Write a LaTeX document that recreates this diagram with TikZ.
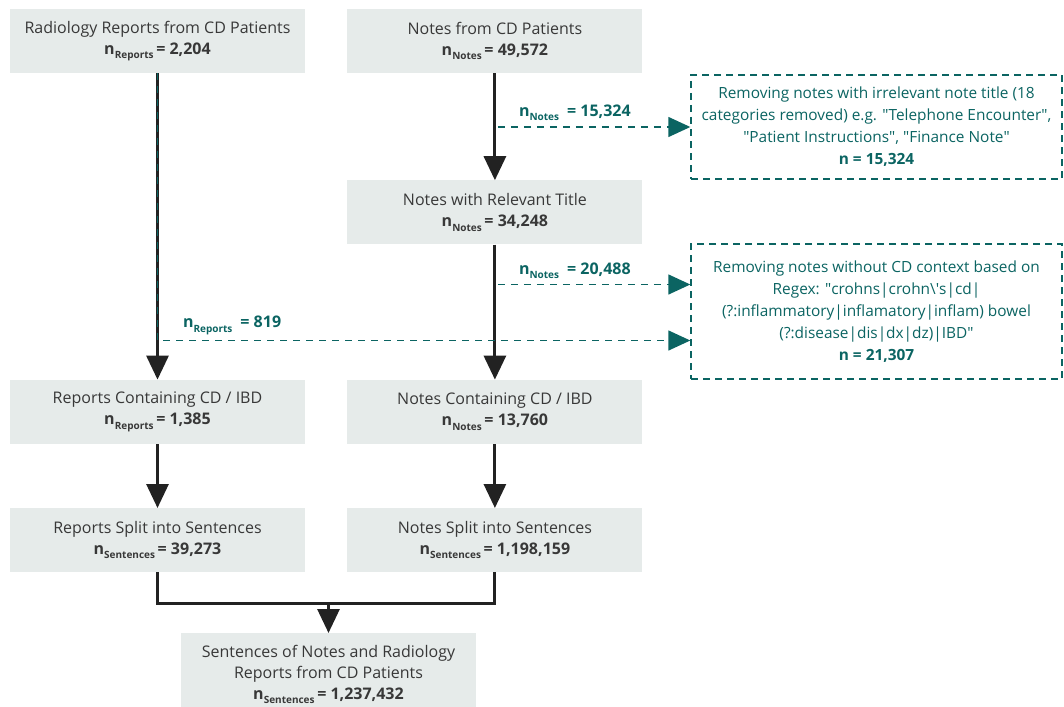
\documentclass[tikz,border=0pt]{standalone}
\usepackage{fontspec}
\setmainfont{Open Sans}
\usetikzlibrary{positioning}
\usetikzlibrary{arrows.meta}
\usetikzlibrary{calc}

\definecolor{boxgray}{HTML}{E6EBEA}
\definecolor{cutteal}{HTML}{0B6462}
\definecolor{ink}{HTML}{222222}

\newcommand{\subtag}[1]{\raisebox{-0.5ex}{\fontsize{10}{10}\selectfont #1}}
\newcommand{\nsub}[2]{\textbf{n\subtag{#1}\,= #2}}

\begin{document}
\begin{tikzpicture}[x=1pt, y=1pt, font=\fontsize{16}{21}\selectfont, text=ink!90]

\useasboundingbox (0,0) rectangle (1064,-706);

\def\BoxWidth{295pt}
\def\BoxHeight{64pt}
\def\HSpacing{42pt}

% Styles
\tikzstyle{module} =
	[fill=boxgray, align=center, minimum width=\BoxWidth, minimum height=\BoxHeight, inner sep=0pt]

\tikzstyle{removed} =
	[draw=cutteal, dash pattern=on 7pt off 5pt, line width=1.4pt, text=cutteal,
	 font=\fontsize{15.4}{22}\selectfont,
	 align=center, minimum width=371pt, inner sep=0pt]

\tikzstyle{flow} =
	[ink, line width=3pt, -{Triangle[width=22pt, length=24pt]}]

\tikzstyle{cut} =
	[cutteal, line width=1.4pt, dash pattern=on 7pt off 6pt,
	 -{Triangle[width=20pt, length=22pt]}]

\tikzstyle{count} =
	[text=cutteal, font=\fontsize{16}{21}\selectfont\bfseries]

% Modules

\node (Reports) at (157.5, -41) [module]
	{Radiology Reports from CD Patients\\ \nsub{Reports}{2,204}};
\node (Notes) [module, right=\HSpacing of Reports]
	{Notes from CD Patients\\ \nsub{Notes}{49,572}};
\node (TitleNotes) [module, below=107pt of Notes]
	{Notes with Relevant Title\\ \nsub{Notes}{34,248}};
\node (CDNotes) [module, below=135pt of TitleNotes]
	{Notes Containing CD / IBD\\ \nsub{Notes}{13,760}};
\node (CDReports) [module, left=\HSpacing of CDNotes]
	{Reports Containing CD / IBD\\ \nsub{Reports}{1,385}};
\node (SplitReports) [module, below=64pt of CDReports]
	{Reports Split into Sentences\\ \nsub{Sentences}{39,273}};
\node (SplitNotes) [module, below=64pt of CDNotes]
	{Notes Split into Sentences\\ \nsub{Sentences}{1,198,159}};
\node (Sentences) at (328.5, -633) [module, anchor=north, minimum height=82pt]
	{Sentences of Notes and Radiology\\ Reports from CD Patients\\ \nsub{Sentences}{1,237,432}};

\node (TitleFilter) at (876.5, -127) [removed, minimum height=104pt]
	{Removing notes with irrelevant note title (18\\
	 categories removed) e.g. \textquotedbl Telephone Encounter\textquotedbl,\\
	 \textquotedbl Patient Instructions\textquotedbl, \textquotedbl Finance Note\textquotedbl\\
	 \textbf{n = 15,324}};
\node (RegexFilter) at (876.5, -311.5) [removed, minimum height=135pt]
	{Removing notes without CD context based on\\
	 Regex: \textquotedbl crohns|crohn\textbackslash\textquotesingle s|cd|\\
	 (?:inflammatory|inflamatory|inflam) bowel\\
	 (?:disease|dis|dx|dz)|IBD\textquotedbl\\
	 \textbf{n = 21,307}};

% Edges

\draw[flow] (Reports) -- (CDReports);
\draw[flow] (Notes) -- (TitleNotes);
\draw[flow] (TitleNotes) -- (CDNotes);
\draw[flow] (CDReports) -- (SplitReports);
\draw[flow] (CDNotes) -- (SplitNotes);

\coordinate (Join) at ($(Sentences.north) + (0, 30pt)$);
\draw[ink, line width=3pt] (SplitReports.south) |- (Join) -| (SplitNotes.south);
\draw[flow] (Join) -- (Sentences.north);

\coordinate (TitleCut) at ($(Notes.south |- TitleFilter.west) + (3pt, 0)$);
\coordinate (RegexCut) at ($(TitleNotes.south |- RegexFilter.west) + (3pt, 27pt)$);

\draw[cut] (TitleCut) -- node[count, pos=0.4, above=2pt] {n\subtag{Notes}\enspace = 15,324} (TitleFilter.west);
\draw[cut] (RegexCut) -- node[count, pos=0.4, above=2pt] {n\subtag{Notes}\enspace = 20,488} ([yshift=27pt]RegexFilter.west);
\draw[cut] (Reports.south) |- node[count, pos=0.57, above=2pt] {n\subtag{Reports}\enspace = 819} ([yshift=-29pt]RegexFilter.west);

\end{tikzpicture}
\end{document}
